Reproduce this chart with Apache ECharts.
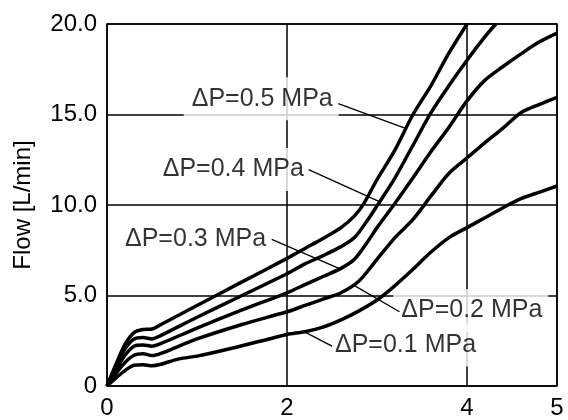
<!DOCTYPE html>
<html><head><meta charset="utf-8">
<script src="https://cdn.jsdelivr.net/npm/echarts@6/dist/echarts.min.js"></script>
<style>html,body{margin:0;padding:0;background:#fff}#c{width:568px;height:420px}</style>
</head><body><div id="c"></div>
<script>
// Tick values
const xTickValues = [0, 2, 4, 5];
const yTickValues = [0, 5, 10, 15, 20];

// Series names (pressure differential)
const seriesNames = ['ΔP=0.1 MPa', 'ΔP=0.2 MPa', 'ΔP=0.3 MPa', 'ΔP=0.4 MPa', 'ΔP=0.5 MPa'];

// Flow curves: [x, flow L/min]
const flow01 = [[0,0],[0.1,0.45],[0.2,0.85],[0.3,1.15],[0.4,1.18],[0.5,1.12],[0.6,1.2],[0.8,1.5],[1.0,1.65],[1.4,2.1],[1.8,2.6],[2.0,2.85],[2.2,3.0],[2.4,3.25],[2.6,3.65],[2.8,4.15],[3.0,4.75],[3.2,5.55],[3.4,6.45],[3.6,7.4],[3.8,8.2],[4.0,8.75],[4.2,9.3],[4.4,9.85],[4.6,10.35],[4.8,10.7],[5.0,11.05]];
const flow02 = [[0,0],[0.1,0.7],[0.2,1.3],[0.3,1.7],[0.4,1.78],[0.5,1.68],[0.6,1.8],[1.0,2.6],[1.5,3.4],[2.0,4.1],[2.2,4.45],[2.4,4.8],[2.6,5.15],[2.8,5.8],[3.0,7.0],[3.2,8.2],[3.4,9.2],[3.6,10.5],[3.8,11.75],[4.0,12.6],[4.2,13.45],[4.4,14.25],[4.6,15.1],[4.8,15.55],[5.0,15.95]];
const flow03 = [[0,0],[0.1,0.9],[0.2,1.7],[0.3,2.2],[0.4,2.27],[0.5,2.2],[0.6,2.35],[1.0,3.2],[1.5,4.2],[2.0,5.15],[2.2,5.6],[2.4,6.05],[2.6,6.5],[2.75,7.0],[2.9,8.0],[3.0,8.75],[3.2,10.1],[3.4,11.5],[3.6,12.95],[3.8,14.3],[4.0,15.75],[4.2,16.9],[4.4,17.65],[4.6,18.35],[4.8,19.0],[5.0,19.5]];
const flow04 = [[0,0],[0.1,1.05],[0.2,2.05],[0.3,2.6],[0.4,2.68],[0.5,2.6],[0.6,2.8],[1.0,3.8],[1.5,5.0],[2.0,6.2],[2.2,6.75],[2.4,7.2],[2.6,7.7],[2.75,8.2],[2.9,9.2],[3.0,9.95],[3.2,11.5],[3.4,13.3],[3.6,15.1],[3.8,16.6],[4.0,18.0],[4.2,19.3],[4.32,20.0]];
const flow05 = [[0,0],[0.1,1.2],[0.2,2.3],[0.3,2.95],[0.4,3.12],[0.5,3.15],[0.6,3.4],[1.0,4.45],[1.5,5.75],[2.0,7.05],[2.2,7.6],[2.4,8.15],[2.6,8.75],[2.75,9.4],[2.85,10.05],[3.0,11.4],[3.2,13.05],[3.4,15.0],[3.6,16.6],[3.8,18.4],[4.0,20.0]];

// Annotation label anchors (left-middle of text), data units
const labelAnchor01 = [2.533, 2.26];
const labelAnchor02 = [3.27, 4.17];
const labelAnchor03 = [0.20, 8.10];
const labelAnchor04 = [0.619, 11.96];
const labelAnchor05 = [0.941, 15.87];

// Leader lines from labels to curves, data units
const leader01 = [[2.50,2.2],[2.2,2.98]];
const leader02 = [[3.25,4.1],[2.73,5.6]];
const leader03 = [[1.83,8.1],[2.59,6.47]];
const leader04 = [[2.24,11.95],[3.02,10.2]];
const leader05 = [[2.57,15.6],[3.31,14.25]];

const FONT = "'Liberation Sans', Arial, Helvetica, sans-serif";
const curves = [flow01, flow02, flow03, flow04, flow05];
const anchors = [labelAnchor01, labelAnchor02, labelAnchor03, labelAnchor04, labelAnchor05];
const leaders = [leader01, leader02, leader03, leader04, leader05];
const PAD = [9, 6, 9, 8];

const series = [];
// label boxes (white background covers grid lines)
series.push({
  type: 'scatter', z: 1, silent: true, symbolSize: 0,
  data: anchors.map((a, i) => ({ value: a, name: seriesNames[i] })),
  label: {
    show: true, position: 'right', distance: 0, offset: [-PAD[3], 0],
    formatter: p => p.name,
    color: '#000', fontSize: 25, fontFamily: FONT,
    backgroundColor: '#fff', padding: PAD
  }
});
leaders.forEach(l => series.push({
  type: 'line', z: 3, silent: true, symbol: 'none', data: l,
  lineStyle: { color: '#000', width: 1.3 }
}));
curves.forEach((c, i) => series.push({
  type: 'line', name: seriesNames[i], z: 4, silent: true, symbol: 'none', smooth: 0.3,
  data: c, lineStyle: { color: '#000', width: 3.5 }
}));

const chart = echarts.init(document.getElementById('c'), null, { renderer: 'canvas' });
chart.setOption({
  animation: false,
  backgroundColor: '#fff',
  grid: { left: 107, right: 11, top: 24, bottom: 33, show: true, borderColor: '#000', borderWidth: 1.5, backgroundColor: 'transparent' },
  xAxis: {
    type: 'value', min: 0, max: 5,
    axisLine: { show: false },
    axisTick: { show: false, customValues: xTickValues },
    axisLabel: { customValues: xTickValues, color: '#000', fontSize: 24, fontFamily: FONT, margin: 10 },
    splitLine: { show: true, lineStyle: { color: '#000', width: 1.5 } }
  },
  yAxis: {
    type: 'value', min: 0, max: 20, interval: 5,
    name: 'Flow [L/min]', nameLocation: 'middle', nameGap: 72, nameRotate: 90,
    nameTextStyle: { color: '#000', fontSize: 24, fontFamily: FONT },
    axisLine: { show: false },
    axisTick: { show: false },
    axisLabel: { color: '#000', fontSize: 24, fontFamily: FONT, margin: 10,
      formatter: v => v === 0 ? '0' : v.toFixed(1) },
    splitLine: { show: true, lineStyle: { color: '#000', width: 1.5 } }
  },
  series
});
</script></body></html>
